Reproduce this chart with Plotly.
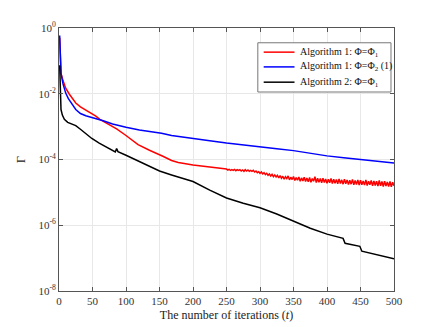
import numpy as np
import plotly.graph_objects as go

# values, stored as log10 exponents of Gamma
t_blue = [1, 3, 6, 10, 14, 18, 25, 32, 40, 49, 55, 66, 80, 93, 100, 120, 138, 153, 168,
          200, 225, 250, 275, 300, 325, 350, 361, 375, 400, 425, 450, 475, 500]
e_blue = [-0.23, -1.38, -1.70, -1.98, -2.15, -2.28, -2.48, -2.60, -2.67, -2.72, -2.75, -2.82,
          -2.92, -2.97, -3.02, -3.10, -3.15, -3.20, -3.27, -3.35, -3.43, -3.50, -3.55, -3.60,
          -3.67, -3.73, -3.77, -3.81, -3.89, -3.95, -4.00, -4.05, -4.11]

# red, smooth part
t_red = [1, 3, 6, 10, 15, 20, 25, 32, 40, 49, 55, 61, 66, 75, 86, 100, 118, 135, 145, 155,
         168, 178, 200, 225, 248]
e_red = [-0.30, -1.38, -1.60, -1.83, -2.00, -2.15, -2.28, -2.40, -2.50, -2.60, -2.68, -2.78,
         -2.84, -2.95, -3.07, -3.27, -3.55, -3.72, -3.80, -3.90, -4.03, -4.09, -4.17, -4.24,
         -4.30]
# red, oscillating part (t = 250, 252, ..., 500)
t_red_osc = list(range(250, 501, 2))
e_red_osc = [
    -4.29, -4.32, -4.30, -4.33, -4.31, -4.33, -4.30, -4.34, -4.31, -4.33,
    -4.31, -4.35, -4.32, -4.36, -4.31, -4.35, -4.32, -4.36, -4.33, -4.36,
    -4.33, -4.38, -4.35, -4.40, -4.37, -4.42, -4.38, -4.44, -4.40, -4.46,
    -4.42, -4.48, -4.44, -4.50, -4.45, -4.52, -4.47, -4.53, -4.48, -4.56,
    -4.49, -4.57, -4.51, -4.60, -4.52, -4.58, -4.50, -4.62, -4.54, -4.61,
    -4.52, -4.64, -4.55, -4.63, -4.53, -4.66, -4.56, -4.65, -4.54, -4.67,
    -4.56, -4.68, -4.55, -4.69, -4.58, -4.66, -4.52, -4.70, -4.57, -4.69,
    -4.58, -4.71, -4.57, -4.70, -4.59, -4.72, -4.60, -4.71, -4.58, -4.73,
    -4.60, -4.72, -4.61, -4.74, -4.59, -4.73, -4.62, -4.75, -4.60, -4.74,
    -4.62, -4.76, -4.63, -4.75, -4.61, -4.77, -4.64, -4.76, -4.62, -4.78,
    -4.63, -4.77, -4.65, -4.78, -4.62, -4.79, -4.66, -4.77, -4.64, -4.80,
    -4.65, -4.79, -4.66, -4.81, -4.64, -4.80, -4.67, -4.82, -4.66, -4.81,
    -4.68, -4.82, -4.67, -4.83, -4.69, -4.80]

t_black = [1, 2, 3, 5, 8, 13, 18, 25, 32, 40, 49, 60, 70, 80, 84, 86, 88, 100, 118, 135,
           150, 168, 185, 200, 225, 250, 275, 300, 325, 350, 361, 375, 400, 424, 427, 449,
           452, 475, 500]
e_black = [-1.13, -1.88, -2.48, -2.65, -2.78, -2.87, -2.92, -2.97, -3.08, -3.22, -3.36,
           -3.50, -3.62, -3.74, -3.77, -3.67, -3.76, -3.87, -4.05, -4.22, -4.35, -4.47, -4.57,
           -4.67, -4.93, -5.17, -5.33, -5.47, -5.66, -5.87, -5.97, -6.09, -6.27, -6.40, -6.55,
           -6.64, -6.79, -6.90, -7.02]

names = ['Algorithm 1: Φ=Φ<sub>1</sub>',
         'Algorithm 1: Φ=Φ<sub>2</sub> (1)',
         'Algorithm 2: Φ=Φ<sub>1</sub>']
colors = ['#ff0000', '#0000ff', '#000000']

y_ticks = [1, 1e-2, 1e-4, 1e-6, 1e-8]
y_ticktext = ['10<sup>0</sup>', '10<sup>-2</sup>', '10<sup>-4</sup>', '10<sup>-6</sup>', '10<sup>-8</sup>']
x_ticks = [0, 50, 100, 150, 200, 250, 300, 350, 400, 450, 500]

serif = 'Liberation Serif'

fig = go.Figure()
fig.add_trace(go.Scatter(x=t_red + t_red_osc, y=10 ** np.array(e_red + e_red_osc),
                         mode='lines', name=names[0], line=dict(color=colors[0], width=1.5)))
fig.add_trace(go.Scatter(x=t_blue, y=10 ** np.array(e_blue),
                         mode='lines', name=names[1], line=dict(color=colors[1], width=1.5)))
fig.add_trace(go.Scatter(x=t_black, y=10 ** np.array(e_black),
                         mode='lines', name=names[2], line=dict(color=colors[2], width=1.5)))

axis_style = dict(showline=True, linecolor='#555555', linewidth=1, mirror='ticks',
                  ticks='inside', ticklen=4, tickcolor='#555555',
                  showgrid=True, gridcolor='#e8e8e8', gridwidth=1, zeroline=False,
                  tickfont=dict(family=serif, size=11, color='#333333'))

fig.update_xaxes(range=[0, 500], tickvals=x_ticks, **axis_style,
                 title=dict(text='The number of iterations (<i>t</i>)', standoff=4,
                            font=dict(family=serif, size=12, color='#222222')))
fig.update_yaxes(type='log', range=[-8, 0], tickvals=y_ticks, ticktext=y_ticktext, **axis_style,
                 title=dict(text='Γ', standoff=10,
                            font=dict(family=serif, size=12, color='#222222')))

# compact MATLAB-like legend box (plotly's own legend rows are too tall here)
fig.add_shape(type='rect', xref='paper', yref='paper', x0=0.5935, x1=0.991, y0=0.7566, y1=0.9438,
              line=dict(color='#777777', width=1), fillcolor='white', layer='above')
rows_y = [0.9082, 0.8521, 0.7940]
for name, col, ry in zip(names, colors, rows_y):
    fig.add_shape(type='line', xref='paper', yref='paper', x0=0.611, x1=0.703, y0=ry, y1=ry,
                  line=dict(color=col, width=1.5), layer='above')
    fig.add_annotation(xref='paper', yref='paper', x=0.712, y=ry, text=name, showarrow=False,
                       xanchor='left', yanchor='middle',
                       font=dict(family=serif, size=10, color='#111111'))

fig.update_layout(
    width=436, height=327,
    margin=dict(l=49, r=50, t=16, b=44),
    paper_bgcolor='white', plot_bgcolor='white',
    showlegend=False,
)

fig.write_html("out.html")
